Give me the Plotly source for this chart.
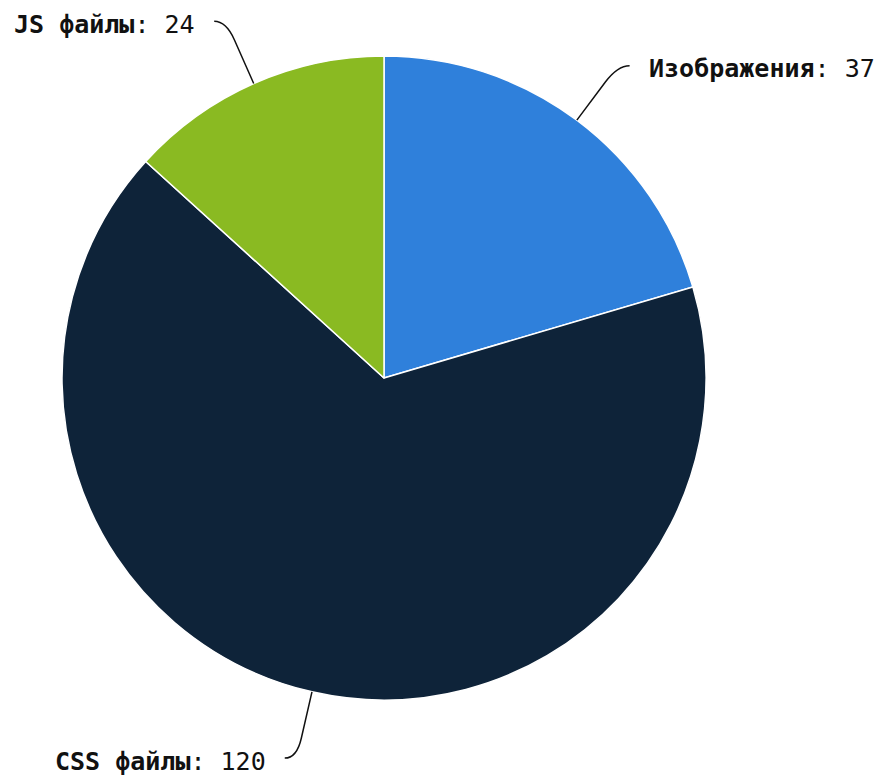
import math
import plotly.graph_objects as go

labels = ["Изображения", "CSS файлы", "JS файлы"]
values = [37, 120, 24]
colors = ["#2f80db", "#0e2339", "#8aba22"]

W, H = 876, 775
CX, CY, R = 384, 378, 322  # pixel geometry of pie
EXT = 68   # connector radial extension
HOOK = 12  # horizontal hook length
GAP = 17   # gap between hook and label

fig = go.Figure()
fig.add_trace(go.Pie(
    labels=labels, values=values, sort=False, direction="clockwise", rotation=0,
    marker=dict(colors=colors, line=dict(color="white", width=1.5)),
    textinfo="none", hoverinfo="label+value", showlegend=False,
    domain=dict(x=[(CX - R) / W, (CX + R) / W], y=[1 - (CY + R) / H, 1 - (CY - R) / H]),
))

def px(x, y):
    return x / W, 1 - y / H

total = sum(values)
cum = 0
shapes, annots = [], []
for name, v in zip(labels, values):
    mid = (cum + v / 2) / total * 2 * math.pi
    cum += v
    dx, dy = math.sin(mid), -math.cos(mid)
    p0 = (CX + R * dx, CY + R * dy)
    pa = (CX + (R + EXT * 0.7) * dx, CY + (R + EXT * 0.7) * dy)
    pb = (CX + (R + EXT) * dx, CY + (R + EXT) * dy)
    side = 1 if dx >= 0 else -1
    p2 = (pb[0] + side * HOOK, pb[1])
    pts = [px(*p) for p in (p0, pa, pb, p2)]
    path = "M {0[0]},{0[1]} L {1[0]},{1[1]} Q {2[0]},{2[1]} {3[0]},{3[1]}".format(*pts)
    shapes.append(dict(type="path", xref="paper", yref="paper", path=path,
                       line=dict(color="#111111", width=1.5)))
    lx, ly = px(p2[0] + side * GAP, p2[1] + 3)
    annots.append(dict(
        x=lx, y=ly, xref="paper", yref="paper", showarrow=False,
        xanchor="left" if side > 0 else "right", yanchor="middle",
        text=f"<b>{name}</b>: {v}",
        font=dict(family="DejaVu Sans Mono", size=25, color="#111111"),
    ))

fig.update_layout(
    width=W, height=H, margin=dict(l=0, r=0, t=0, b=0),
    paper_bgcolor="white", plot_bgcolor="white",
    shapes=shapes, annotations=annots,
)
fig.write_html("out.html", config={"displayModeBar": False},
               post_script="document.body.style.margin='0';")
